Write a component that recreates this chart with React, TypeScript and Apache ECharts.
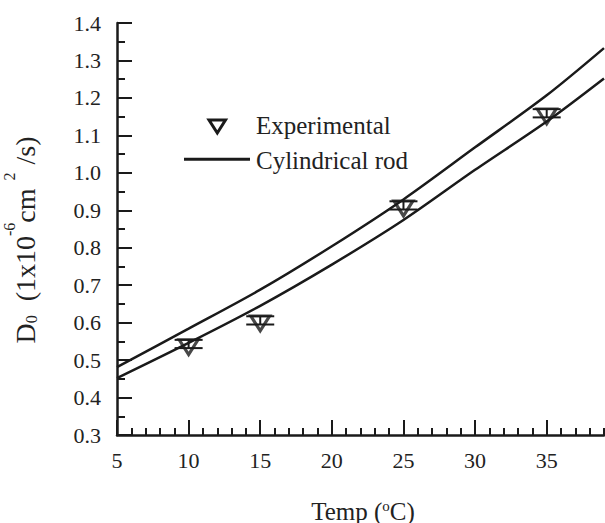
import React, { useEffect, useRef } from "react";
import * as echarts from "echarts";

const curveX = [5, 10, 15, 20, 25, 30, 35, 39];
const upperCurve = [0.481, 0.584, 0.688, 0.804, 0.929, 1.068, 1.207, 1.333];
const lowerCurve = [0.452, 0.546, 0.645, 0.755, 0.874, 1.008, 1.137, 1.252];

const expX = [10, 15, 25, 35];
const expY = [0.543, 0.606, 0.913, 1.159];
const expErr = [0.011, 0.011, 0.011, 0.011];

const xMajorTicks = [5, 10, 15, 20, 25, 30, 35];

const INK = "#1a1a1a";
const TXT = "#222222";
const FONT = "'Liberation Serif', 'Times New Roman', serif";

export default function App() {
  const ref = useRef<HTMLDivElement>(null);
  useEffect(() => {
    document.body.style.margin = "0";
    const chart = echarts.init(ref.current!, null, { renderer: "svg" });
    const option: any = {
      animation: false,
      backgroundColor: "#ffffff",
      textStyle: { fontFamily: FONT },
      grid: {
        left: 117,
        top: 23,
        right: 1,
        bottom: 88,
        outerBoundsMode: "none",
        containLabel: false,
      },
      xAxis: [
        {
          type: "value",
          min: 5,
          max: 39,
          interval: 1,
          position: "bottom",
          axisLine: { show: true, onZero: false, lineStyle: { color: INK, width: 2.5 } },
          axisTick: { show: true, inside: true, length: 7, lineStyle: { color: INK, width: 2 } },
          axisLabel: { show: false },
          splitLine: { show: false },
        },
        {
          type: "value",
          min: 5,
          max: 39,
          interval: 5,
          position: "bottom",
          axisLine: { show: false },
          axisTick: {
            show: true,
            inside: true,
            length: 15,
            customValues: xMajorTicks,
            lineStyle: { color: INK, width: 2 },
          },
          axisLabel: {
            show: true,
            customValues: xMajorTicks,
            margin: 14,
            fontSize: 22,
            color: TXT,
            fontFamily: FONT,
            formatter: (v: number) => String(v),
          },
          splitLine: { show: false },
        },
      ],
      yAxis: {
        type: "value",
        min: 0.3,
        max: 1.4,
        interval: 0.1,
        axisLine: { show: true, onZero: false, lineStyle: { color: INK, width: 2.5 } },
        axisTick: { show: true, inside: true, length: 15, lineStyle: { color: INK, width: 2 } },
        minorTick: { show: true, splitNumber: 2, length: 8, lineStyle: { color: INK, width: 2 } },
        axisLabel: {
          margin: 16,
          fontSize: 22,
          color: TXT,
          fontFamily: FONT,
          formatter: (v: number) => v.toFixed(1),
        },
        splitLine: { show: false },
      },
      series: [
        {
          name: "Cylindrical rod",
          type: "line",
          data: curveX.map((x, i) => [x, upperCurve[i]]),
          smooth: 0.3,
          symbol: "none",
          lineStyle: { color: INK, width: 2.5 },
          z: 2,
        },
        {
          name: "Cylindrical rod (lower)",
          type: "line",
          data: curveX.map((x, i) => [x, lowerCurve[i]]),
          smooth: 0.3,
          symbol: "none",
          lineStyle: { color: INK, width: 2.5 },
          z: 2,
        },
        {
          name: "Error",
          type: "custom",
          data: expX.map((x, i) => [x, expY[i], expErr[i]]),
          renderItem: (params: any, api: any) => {
            const x = api.value(0);
            const y = api.value(1);
            const e = api.value(2);
            const t = api.coord([x, y + e]);
            const b = api.coord([x, y - e]);
            const hw = 14;
            const st = { stroke: INK, lineWidth: 2 };
            return {
              type: "group",
              children: [
                { type: "line", shape: { x1: t[0], y1: t[1], x2: b[0], y2: b[1] }, style: st },
                { type: "line", shape: { x1: t[0] - hw, y1: t[1], x2: t[0] + hw, y2: t[1] }, style: st },
                { type: "line", shape: { x1: b[0] - hw, y1: b[1], x2: b[0] + hw, y2: b[1] }, style: st },
              ],
            };
          },
          z: 3,
        },
        {
          name: "Experimental",
          type: "scatter",
          data: expX.map((x, i) => [x, expY[i]]),
          symbol: "path://M0,0L20,0L10,17Z",
          symbolSize: [19, 15],
          symbolOffset: [0, 3],
          itemStyle: { color: "none", borderColor: INK, borderWidth: 3 },
          z: 4,
        },
      ],
      graphic: [
        {
          type: "polygon",
          shape: { points: [[209, 120], [225.5, 120], [217.3, 133]] },
          style: { fill: "none", stroke: INK, lineWidth: 3 },
        },
        {
          type: "line",
          shape: { x1: 184, y1: 159.3, x2: 250, y2: 159.3 },
          style: { stroke: INK, lineWidth: 3 },
        },
        {
          type: "text",
          x: 256,
          y: 125,
          style: {
            text: "Experimental",
            fontSize: 25,
            fontFamily: FONT,
            fill: TXT,
            align: "left",
            verticalAlign: "middle",
          },
        },
        {
          type: "text",
          x: 256,
          y: 160,
          style: {
            text: "Cylindrical rod",
            fontSize: 25,
            fontFamily: FONT,
            fill: TXT,
            align: "left",
            verticalAlign: "middle",
          },
        },
        {
          type: "text",
          x: 363,
          y: 511,
          style: {
            text: "{m|Temp (}{sup|o}{m|C)}",
            align: "center",
            verticalAlign: "middle",
            fill: TXT,
            fontFamily: FONT,
            rich: {
              m: { fontSize: 25, lineHeight: 26, fontFamily: FONT, fill: TXT, verticalAlign: "middle" },
              sup: { fontSize: 15, lineHeight: 15, fontFamily: FONT, fill: TXT, verticalAlign: "top" },
            },
          },
        },
        {
          type: "text",
          x: 25,
          y: 240,
          rotation: Math.PI / 2,
          style: {
            text: "{m|D}{sub|0}{m|  (1x10}{sup|-6}{m|cm}{sup|  2  }{m|/s)}",
            align: "center",
            verticalAlign: "middle",
            fill: TXT,
            fontFamily: FONT,
            rich: {
              m: { fontSize: 28, lineHeight: 48, fontFamily: FONT, fill: TXT, verticalAlign: "middle" },
              sup: { fontSize: 16, lineHeight: 16, fontFamily: FONT, fill: TXT, verticalAlign: "top" },
              sub: { fontSize: 16, lineHeight: 16, fontFamily: FONT, fill: TXT, verticalAlign: "middle", padding: [12, 0, 0, 0] },
            },
          },
        },
      ],
    };
    chart.setOption(option);
    return () => chart.dispose();
  }, []);
  return <div ref={ref} style={{ width: 605, height: 523 }} />;
}
